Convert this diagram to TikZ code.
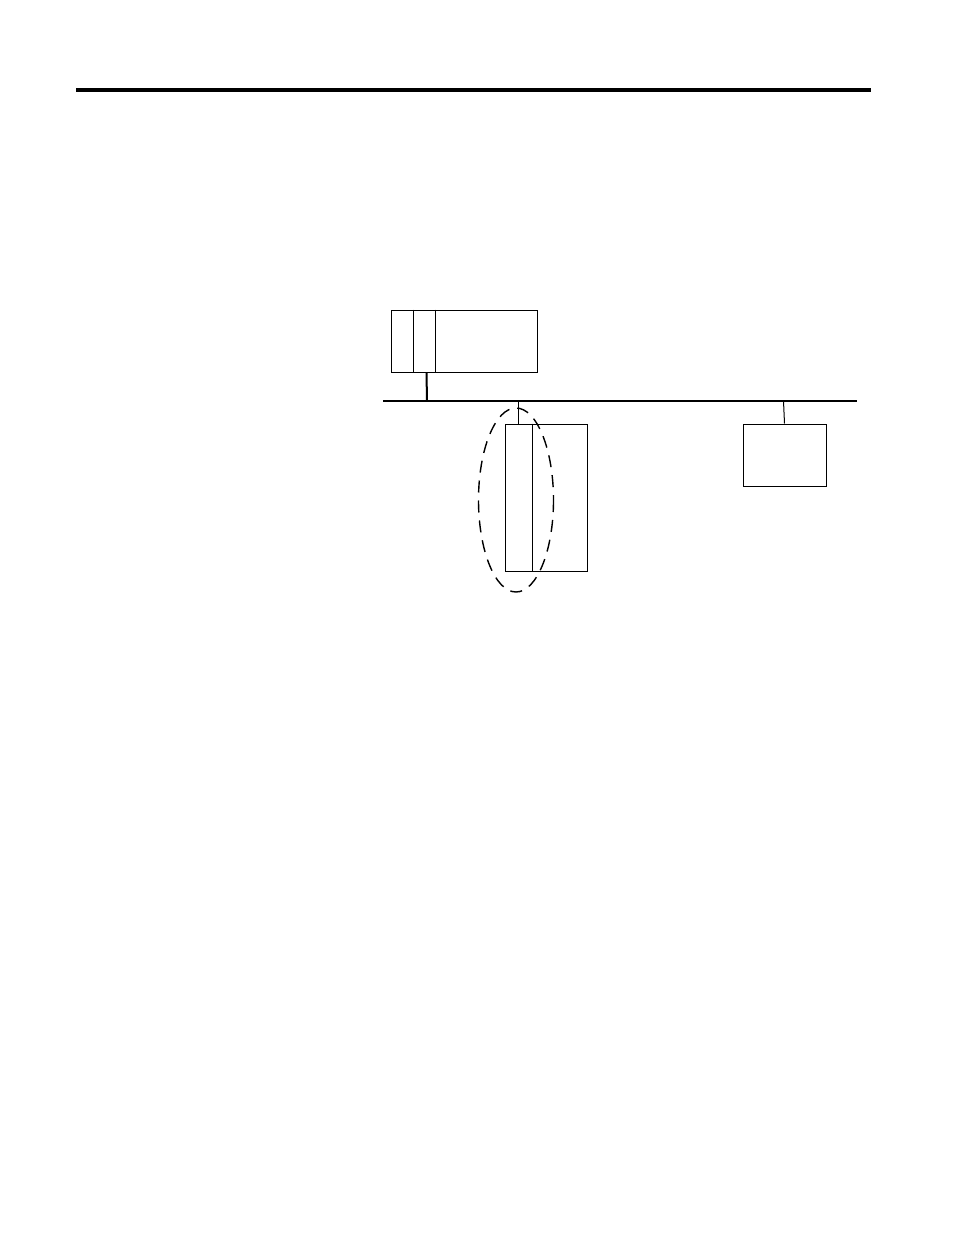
\documentclass[tikz,border=0pt]{standalone}
\usetikzlibrary{calc}
\tikzset{
  unit/.style={draw, line width=1pt, rectangle, inner sep=0pt},
  stub/.style={line width=1pt},
}
\begin{document}
\begin{tikzpicture}[x=1pt,y=-1pt]
			%%%%% START %%%%%
			\useasboundingbox (0,0) rectangle (954,1235);
			
			\draw[fill=black] (76, 88.5) rectangle (870, 91.5);
			
			% controller rack
			\node[unit, minimum width=146pt, minimum height=62pt] (rack) at (464, 341) {};
			\draw[line width=1pt] ($(rack.north west)+(23,0)$) -- ($(rack.south west)+(23,0)$);
			\draw[line width=1pt] ($(rack.north west)+(45,0)$) -- ($(rack.south west)+(45,0)$);
			
			% network
			\coordinate (busL) at (383, 401);
			\coordinate (busR) at (857, 401);
			\draw[line width=2.4pt] (busL) -- (busR);
			\coordinate (tapA) at (427, 401);
			\coordinate (tapB) at (518, 401);
			\coordinate (tapC) at (783.5, 401);
			\draw[line width=2pt] ($(rack.south west)+(36,0)$) -- (tapA);
			
			% remote chassis
			\node[unit, minimum width=82pt, minimum height=147pt] (chassis) at (546, 497.5) {};
			\draw[line width=1pt] ($(chassis.north west)+(28,0)$) -- ($(chassis.south west)+(28,0)$);
			\draw[stub] (tapB) -- (tapB |- chassis.north);
			
			% device
			\node[unit, minimum width=83pt, minimum height=62pt] (device) at (784.5, 455) {};
			\draw[stub] (tapC) -- (device.north);
			
			\draw[line width=1.4pt, dash pattern=on 12pt off 8pt] (516, 500) ellipse (37.5 and 92);
			
			%%%%% END %%%%%
\end{tikzpicture}
\end{document}
